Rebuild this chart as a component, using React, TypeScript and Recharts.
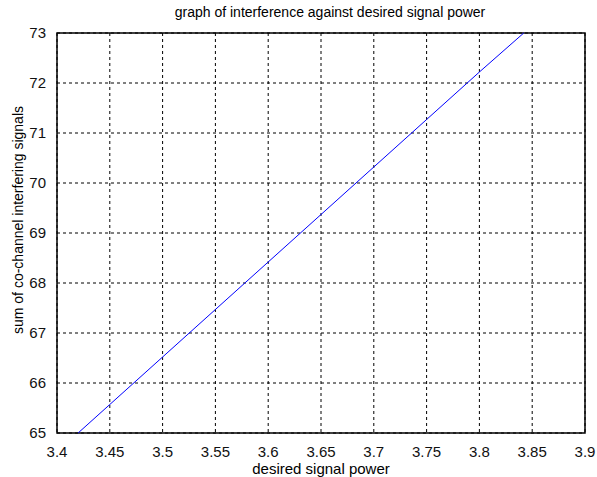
import React from 'react';
import {
  LineChart,
  Line,
  XAxis,
  YAxis,
  CartesianGrid,
  ReferenceArea,
} from 'recharts';

// desired signal power (x) vs sum of co-channel interfering signals (y)
const signalPower = [3.42, 3.45, 3.5, 3.55, 3.6, 3.65, 3.7, 3.75, 3.8, 3.842];
const interference = [65, 65.57, 66.52, 67.47, 68.42, 69.37, 70.32, 71.27, 72.22, 73];

const xTicks = [3.4, 3.45, 3.5, 3.55, 3.6, 3.65, 3.7, 3.75, 3.8, 3.85, 3.9];
const yTicks = [65, 66, 67, 68, 69, 70, 71, 72, 73];

const FONT = '"Liberation Sans", Arial, sans-serif';

// rotated y-axis title, a bit above the middle of the axis like the original
const YTitle = (props: any) => {
  const vb = props.viewBox || {};
  const cx = (vb.x || 0) + 18;
  const cy = (vb.y || 0) + (vb.height || 0) / 2 - 13;
  return (
    <text
      x={cx}
      y={cy}
      transform={`rotate(-90, ${cx}, ${cy})`}
      textAnchor="middle"
      dominantBaseline="central"
      fontSize={14}
      fill="#000"
      fontFamily={FONT}
    >
      sum of co-channel interfering signals
    </text>
  );
};

const App: React.FC = () => {
  const data = signalPower.map((x, i) => ({ x, y: interference[i] }));

  return (
    <div style={{ position: 'absolute', left: 0, top: 0, width: 597, height: 477, background: '#fff', fontFamily: FONT }}>
      <div
        style={{
          position: 'absolute',
          top: 4,
          left: 330,
          transform: 'translateX(-50%)',
          whiteSpace: 'nowrap',
          fontSize: 14,
          color: '#000',
        }}
      >
        graph of interference against desired signal power
      </div>
      <LineChart
        width={597}
        height={477}
        data={data}
        margin={{ top: 33, right: 12, bottom: 0, left: 0 }}
      >
        <CartesianGrid stroke="#000" strokeDasharray="3 3" strokeWidth={1} />
        <XAxis
          dataKey="x"
          type="number"
          domain={[3.4, 3.9]}
          ticks={xTicks}
          interval={0}
          height={44}
          axisLine={false}
          tickLine={false}
          tickMargin={7}
          tick={{ fontSize: 15, fill: '#111', fontFamily: FONT }}
          label={{
            value: 'desired signal power',
            position: 'insideBottom',
            offset: 3,
            style: { fontSize: 15, fill: '#000', fontFamily: FONT },
          }}
        />
        <YAxis
          type="number"
          domain={[65, 73]}
          ticks={yTicks}
          interval={0}
          width={57}
          axisLine={false}
          tickLine={false}
          tickMargin={5}
          tick={{ fontSize: 15, fill: '#111', fontFamily: FONT }}
          label={<YTitle />}
        />
        <ReferenceArea x1={3.4} x2={3.9} y1={65} y2={73} fill="none" stroke="#000" strokeWidth={1.5} />
        <Line
          type="linear"
          dataKey="y"
          stroke="#0000ff"
          strokeWidth={1}
          dot={false}
          isAnimationActive={false}
        />
      </LineChart>
    </div>
  );
};

export default App;
